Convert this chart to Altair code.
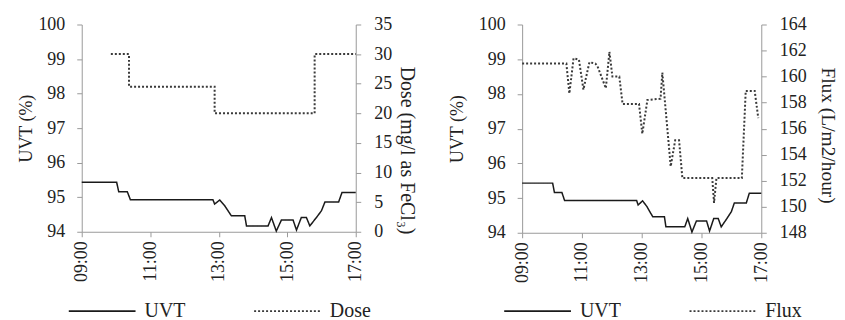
import altair as alt
import pandas as pd

# ---- data ----
uvt_t = [9.0, 10.02, 10.08, 10.33, 10.42, 12.83, 12.88, 13.03, 13.17, 13.27, 13.37, 13.76,
         13.81, 14.44, 14.54, 14.68, 14.83, 15.17, 15.27, 15.41, 15.56, 15.66, 15.85, 16.0,
         16.1, 16.5, 16.6, 17.0]
uvt_v = [95.43, 95.43, 95.16, 95.16, 94.93, 94.93, 94.80, 94.92, 94.76, 94.61, 94.46, 94.46,
         94.17, 94.17, 94.41, 94.02, 94.34, 94.34, 94.05, 94.41, 94.41, 94.17, 94.41, 94.61,
         94.86, 94.86, 95.14, 95.14]

dose_t = [9.85, 10.38, 12.88, 15.8, 17.0]
dose_v = [30, 24.5, 20, 30, 30]

flux_t = [9.0, 10.48, 10.58, 10.72, 10.9, 11.05, 11.25, 11.45, 11.52, 11.8, 11.92, 12.02,
          12.25, 12.36, 12.91, 13.02, 13.19, 13.63, 13.69, 13.97, 14.12, 14.25, 14.36, 15.36,
          15.42, 15.5, 16.35, 16.48, 16.78, 16.9]
flux_v = [161.0, 161.0, 158.7, 161.4, 161.3, 159.0, 161.1, 161.0, 160.8, 159.1, 161.9, 160.0,
          160.0, 157.9, 157.9, 155.6, 158.2, 158.3, 160.3, 153.1, 155.1, 155.1, 152.2, 152.2,
          150.3, 152.2, 152.2, 158.9, 158.9, 156.8]

x_ticks = [9, 11, 13, 15, 17]
uvt_ticks = [94, 95, 96, 97, 98, 99, 100]
dose_ticks = [0, 5, 10, 15, 20, 25, 30, 35]
flux_ticks = [148, 150, 152, 154, 156, 158, 160, 162, 164]

uvt_df = pd.DataFrame({"t": uvt_t, "v": uvt_v, "series": "UVT"})
dose_df = pd.DataFrame({"t": dose_t, "v": dose_v, "series": "Dose"})
flux_df = pd.DataFrame({"t": flux_t, "v": flux_v, "series": "Flux"})

FONT = "Liberation Serif"
TXT = "#222222"
AX = "#9a9a9a"

xaxis = alt.Axis(values=x_ticks, labelExpr="(datum.value < 10 ? '0' : '') + datum.value + ':00'",
                 labelAngle=270, title=None, labelPadding=4, tickSize=5)
xscale = alt.Scale(domain=[9, 17], nice=False, zero=False)


def legend(lx, ly):
    return alt.Legend(orient="none", legendX=lx, legendY=ly, direction="horizontal", title=None,
                      symbolType="stroke", symbolSize=4489, symbolStrokeWidth=1.8,
                      labelFont=FONT, labelFontSize=20, labelColor=TXT, labelOffset=8,
                      columnPadding=64, padding=0)


def panel(second_df, second_name, second_title, second_domain, second_ticks, w, h, lx, ly,
          ltp, rtp, rts, rty):
    dom = ["UVT", second_name]
    col = alt.Color("series:N", scale=alt.Scale(domain=dom, range=["#1a1a1a", "#3a3a3a"]),
                    legend=legend(lx, ly))
    dash = alt.StrokeDash("series:N", scale=alt.Scale(domain=dom, range=[[1, 0], [2, 2]]),
                          legend=legend(lx, ly))
    base_uvt = alt.Chart(uvt_df).mark_line(strokeWidth=1.5).encode(
        x=alt.X("t:Q", scale=xscale, axis=xaxis),
        y=alt.Y("v:Q", scale=alt.Scale(domain=[94, 100], nice=False, zero=False),
                axis=alt.Axis(values=uvt_ticks, title="UVT (%)", orient="left",
                              titlePadding=ltp, titleFontSize=18, labelPadding=12)),
        color=col, strokeDash=dash,
    )
    interp = "step-after" if second_name == "Dose" else "linear"
    sec = alt.Chart(second_df).mark_line(strokeWidth=2, interpolate=interp).encode(
        x=alt.X("t:Q", scale=xscale, axis=xaxis),
        y=alt.Y("v:Q", scale=alt.Scale(domain=second_domain, nice=False, zero=False),
                axis=alt.Axis(values=second_ticks, title=second_title, orient="right",
                              titlePadding=rtp, titleFontSize=rts, labelPadding=13,
                              titleY=rty)),
        color=col, strokeDash=dash,
    )
    return alt.layer(base_uvt, sec).resolve_scale(y="independent").properties(width=w, height=h)


left = panel(dose_df, "Dose", "Dose (mg/l as FeCl₃)", [0, 35], dose_ticks, 275, 208,
             -14, 253, 2, 5, 20, 126)
right = panel(flux_df, "Flux", "Flux (L/m2/hour)", [148, 164], flux_ticks, 240, 209,
              -19, 253, 12, 11, 19.5, 111)

chart = alt.hconcat(left, right, spacing=32).resolve_scale(
    color="independent", strokeDash="independent"
).configure_view(stroke=None).configure_axis(
    grid=False, domainColor=AX, tickColor=AX, labelFont=FONT, labelFontSize=18,
    labelColor=TXT, titleFont=FONT, titleFontWeight="normal",
    titleColor=TXT, tickSize=5,
).properties(padding={"left": 10, "top": 7, "right": 0, "bottom": 0}, background="white")

chart.save("out.html", embed_options={"renderer": "svg", "actions": False})
